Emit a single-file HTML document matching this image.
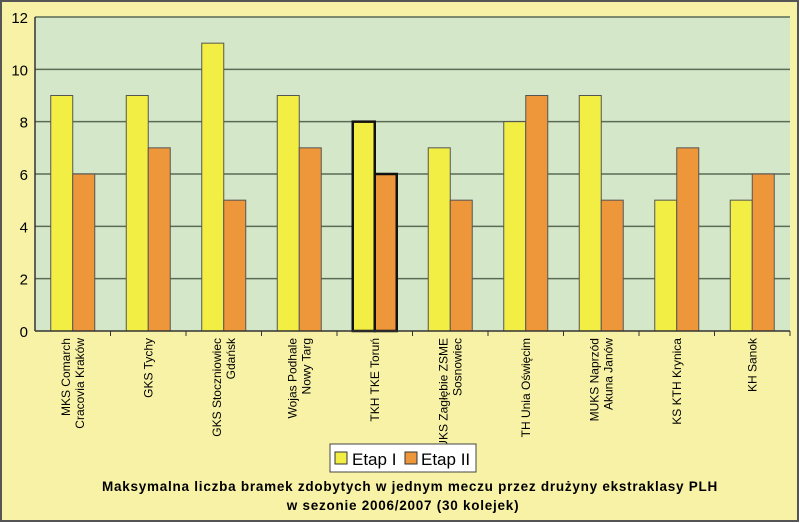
<!DOCTYPE html>
<html><head><meta charset="utf-8"><style>
body{margin:0;background:#fff}
svg{display:block;font-family:"Liberation Sans",sans-serif}
</style></head><body>
<svg width="800" height="523" viewBox="0 0 800 523">
<rect x="1" y="1" width="797" height="520" fill="#f8f2a6" stroke="#555" stroke-width="2"/>
<rect x="35" y="17" width="755" height="314" fill="#d4e7c9"/>
<g id="grid"></g>
<g id="bars"></g>
<g id="yaxis"></g>
<g id="xaxis"></g>
<g>
<rect x="330" y="444" width="146" height="28" fill="#fff" stroke="#444" stroke-width="1"/>
<rect x="335" y="452" width="12" height="12" fill="#f2ee44" stroke="#333"/>
<text x="352" y="465" font-size="17">Etap I</text>
<rect x="405" y="452" width="12" height="12" fill="#ee963a" stroke="#333"/>
<text x="421" y="465" font-size="17">Etap II</text>
</g>
<text x="410" y="491" font-size="13.5" letter-spacing="0.75" font-weight="bold" text-anchor="middle">Maksymalna liczba bramek zdobytych w jednym meczu przez drużyny ekstraklasy PLH</text>
<text x="403" y="510" font-size="13.5" letter-spacing="0.75" font-weight="bold" text-anchor="middle">w sezonie 2006/2007 (30 kolejek)</text>
</svg>
<script>
const categories=[["MKS Comarch","Cracovia Kraków"],["GKS Tychy"],["GKS Stoczniowiec","Gdańsk"],["Wojas Podhale","Nowy Targ"],["TKH TKE Toruń"],["UKS Zagłębie ZSME","Sosnowiec"],["TH Unia Oświęcim"],["MUKS Naprzód","Akuna Janów"],["KS KTH Krynica"],["KH Sanok"]];
const etap1=[9,9,11,9,8,7,8,9,5,5];
const etap2=[6,7,5,7,6,5,9,5,7,6];
const yTicks=[0,2,4,6,8,10,12];
const highlighted=[4];
const NS="http://www.w3.org/2000/svg";
const x0=35,x1=790,yTop=17,yBot=331,yMax=12;
const band=(x1-x0)/categories.length;
function y(v){return yBot-(v/yMax)*(yBot-yTop);}
function xc(i){return x0+band*(i+0.5);}
function mk(t,a,p){const e=document.createElementNS(NS,t);for(const k in a)e.setAttribute(k,a[k]);p.appendChild(e);return e;}
const grid=document.getElementById('grid'),bars=document.getElementById('bars'),ya=document.getElementById('yaxis'),xa=document.getElementById('xaxis');
yTicks.forEach(t=>{
 if(t>0){const l=mk('line',{x1:x0,x2:x1,y1:y(t),y2:y(t),stroke:'#5b6b55','stroke-width':1.5},grid);
 
 }
 const tx=mk('text',{x:28,y:y(t)+6,'font-size':15,'text-anchor':'end'},ya);tx.textContent=t;
 
 
});
mk('line',{x1:x0,x2:x0,y1:yTop,y2:yBot,stroke:'#333','stroke-width':1.5},ya);
mk('line',{x1:x0,x2:x1,y1:yBot,y2:yBot,stroke:'#333','stroke-width':1.5},ya);
const bw=22;
categories.forEach((c,i)=>{
 const cx=xc(i),hl=highlighted.includes(i);
 const b1=mk('rect',{x:cx-bw,y:y(etap1[i]),width:bw,height:yBot-y(etap1[i]),fill:'#f2ee44',stroke:hl?'#111':'#555','stroke-width':hl?2.5:1},bars);
 
 
 const b2=mk('rect',{x:cx,y:y(etap2[i]),width:bw,height:yBot-y(etap2[i]),fill:'#ee963a',stroke:hl?'#111':'#555','stroke-width':hl?2.5:1},bars);
 
 
 mk('line',{x1:x0+band*(i+1),x2:x0+band*(i+1),y1:yBot,y2:yBot+5,stroke:'#333'},xa);
 const n=c.length;
 c.forEach((ln,j)=>{
  const tx=cx+(j-(n-1)/2)*14+4;
  const t=mk('text',{x:0,y:0,'font-size':12,'text-anchor':'end',transform:`translate(${tx},338) rotate(-90)`},xa);
  t.textContent=ln;
  
  
 });
});
</script>
</body></html>
